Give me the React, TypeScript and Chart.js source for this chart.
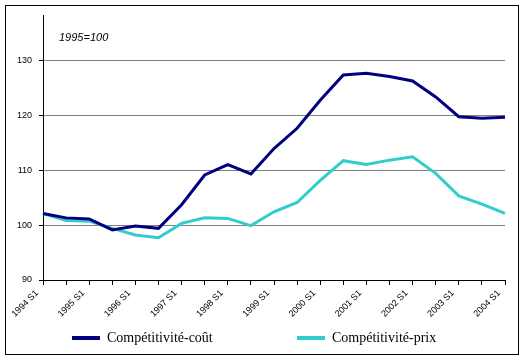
import React, { useEffect, useRef } from "react";
import { Chart, registerables } from "chart.js";

Chart.register(...registerables);

const categories = [
  "1994 S1", "1994 S2", "1995 S1", "1995 S2", "1996 S1", "1996 S2",
  "1997 S1", "1997 S2", "1998 S1", "1998 S2", "1999 S1", "1999 S2",
  "2000 S1", "2000 S2", "2001 S1", "2001 S2", "2002 S1", "2002 S2",
  "2003 S1", "2003 S2", "2004 S1",
];

const coutValues = [
  102.1, 101.3, 101.1, 99.1, 99.8, 99.4, 103.7, 109.1, 111.0, 109.3, 113.9,
  117.6, 122.7, 127.3, 127.6, 127.0, 126.2, 123.3, 119.7, 119.4, 119.6,
];

const prixValues = [
  102.1, 100.8, 100.7, 99.4, 98.2, 97.7, 100.3, 101.3, 101.2, 99.9, 102.4,
  104.1, 108.1, 111.7, 111.0, 111.8, 112.4, 109.4, 105.3, 103.8, 102.1,
];

const seriesNames = ["Compétitivité-coût", "Compétitivité-prix"];
const seriesColors = ["#000080", "#33CCCC"];
const yTicks = [90, 100, 110, 120, 130];
const baseNote = "1995=100";

const extrasPlugin = {
  id: "extras",
  afterDraw(chart: any) {
    const ctx = chart.ctx;
    const area = chart.chartArea;
    ctx.save();
    // outer border
    ctx.strokeStyle = "#000000";
    ctx.lineWidth = 1;
    ctx.strokeRect(5.5, 5.5, 513, 349);
    // base note
    ctx.fillStyle = "#000000";
    ctx.font = "italic 11px 'Liberation Sans', Arial, sans-serif";
    ctx.textBaseline = "middle";
    ctx.textAlign = "left";
    ctx.fillText(baseNote, area.left + 16, area.top + 23);
    // legend
    ctx.font = "14px 'Liberation Serif', 'Times New Roman', serif";
    const items = [
      { x: 72, text: seriesNames[0], color: seriesColors[0] },
      { x: 297, text: seriesNames[1], color: seriesColors[1] },
    ];
    const ly = 338;
    items.forEach((it) => {
      ctx.fillStyle = it.color;
      ctx.fillRect(it.x, ly - 2, 28, 4);
      ctx.fillStyle = "#000000";
      ctx.fillText(it.text, it.x + 35, ly);
    });
    ctx.restore();
  },
};

export default function App() {
  const canvasRef = useRef<HTMLCanvasElement | null>(null);

  useEffect(() => {
    if (!canvasRef.current) return;
    const chart = new Chart(canvasRef.current, {
      type: "line",
      data: {
        labels: categories,
        datasets: [
          {
            label: seriesNames[0],
            data: coutValues,
            borderColor: seriesColors[0],
            backgroundColor: seriesColors[0],
            borderWidth: 3,
            pointRadius: 0,
            tension: 0,
          },
          {
            label: seriesNames[1],
            data: prixValues,
            borderColor: seriesColors[1],
            backgroundColor: seriesColors[1],
            borderWidth: 3,
            pointRadius: 0,
            tension: 0,
          },
        ],
      },
      options: {
        animation: false,
        responsive: false,
        maintainAspectRatio: false,
        layout: { padding: { left: 0, right: 19, top: 15, bottom: 0 } },
        plugins: {
          legend: { display: false },
          tooltip: { enabled: false },
        },
        scales: {
          x: {
            type: "category",
            offset: false,
            afterFit: (scale: any) => {
              scale.height = 80;
            },
            grid: {
              display: true,
              drawOnChartArea: false,
              drawTicks: true,
              tickLength: 5,
              color: "#000000",
              tickColor: "#000000",
            },
            border: { display: true, color: "#000000", width: 1 },
            ticks: {
              autoSkip: false,
              minRotation: 45,
              maxRotation: 45,
              padding: 3,
              labelOffset: -6,
              color: "#000000",
              font: { size: 9, family: "'Liberation Sans', Arial, sans-serif" },
              callback: (_v: any, i: number) => (i % 2 === 0 ? categories[i] : ""),
            },
          },
          y: {
            min: 90,
            max: 138.2,
            afterFit: (scale: any) => {
              scale.width = 43;
            },
            afterBuildTicks: (scale: any) => {
              scale.ticks = yTicks.map((v) => ({ value: v }));
            },
            grid: {
              color: "#808080",
              tickColor: "#000000",
              tickLength: 4,
              lineWidth: 1,
            },
            border: { display: true, color: "#000000", width: 1 },
            ticks: {
              padding: 7,
              color: "#000000",
              font: { size: 9, family: "'Liberation Sans', Arial, sans-serif" },
            },
          },
        },
      },
      plugins: [extrasPlugin],
    });
    return () => chart.destroy();
  }, []);

  return (
    <div style={{ position: "fixed", left: 0, top: 0, width: 524, height: 360, background: "#ffffff" }}>
      <canvas ref={canvasRef} width={524} height={360} style={{ display: "block", width: 524, height: 360 }} />
    </div>
  );
}
